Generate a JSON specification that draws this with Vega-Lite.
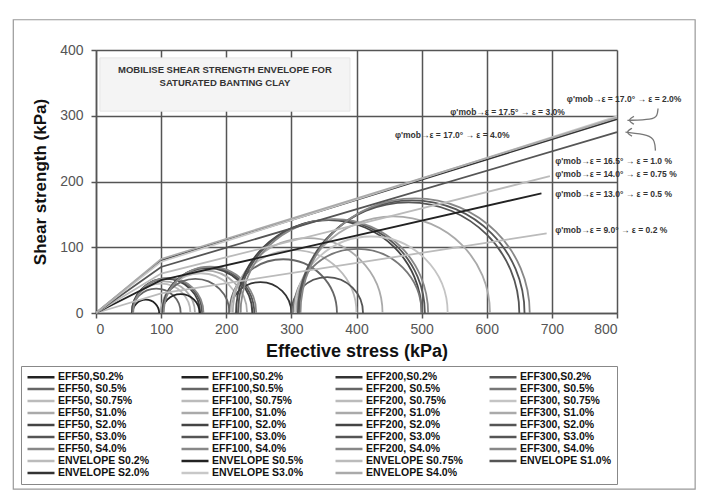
{
  "$schema": "https://vega.github.io/schema/vega-lite/v6.json",
  "width": 521,
  "height": 263,
  "autosize": {"type": "none"},
  "padding": {"left": 96, "top": 50, "right": 84, "bottom": 185},
  "background": "white",
  "config": {"font": "Liberation Sans", "view": {"stroke": null}},
  "datasets": {
    "circles": [
      {"series": "EFF50,S0.2%", "c": 76.5, "r": 20.5},
      {"series": "EFF50, S0.5%", "c": 92.5, "r": 37.5},
      {"series": "EFF50, S0.75%", "c": 100, "r": 45},
      {"series": "EFF50, S1.0%", "c": 103.5, "r": 48.5},
      {"series": "EFF50, S2.0%", "c": 107.5, "r": 52.5},
      {"series": "EFF50, S3.0%", "c": 109.5, "r": 53.5},
      {"series": "EFF50, S4.0%", "c": 111, "r": 54},
      {"series": "EFF100,S0.2%", "c": 130, "r": 29},
      {"series": "EFF100,S0.5%", "c": 152.5, "r": 52.5},
      {"series": "EFF100, S0.75%", "c": 161, "r": 61},
      {"series": "EFF100, S1.0%", "c": 166.5, "r": 65.5},
      {"series": "EFF100, S2.0%", "c": 171, "r": 69},
      {"series": "EFF100, S3.0%", "c": 173, "r": 70},
      {"series": "EFF100, S4.0%", "c": 175, "r": 71},
      {"series": "EFF200,S0.2%", "c": 252.5, "r": 47.5},
      {"series": "EFF200, S0.5%", "c": 287.5, "r": 82.5},
      {"series": "EFF200, S0.75%", "c": 303.5, "r": 96.5},
      {"series": "EFF200, S1.0%", "c": 325, "r": 115},
      {"series": "EFF200, S2.0%", "c": 357.5, "r": 142.5},
      {"series": "EFF200, S3.0%", "c": 361.5, "r": 143.5},
      {"series": "EFF200, S4.0%", "c": 366, "r": 144},
      {"series": "EFF300,S0.2%", "c": 355, "r": 55},
      {"series": "EFF300, S0.5%", "c": 401.5, "r": 98.5},
      {"series": "EFF300, S0.75%", "c": 422.5, "r": 117.5},
      {"series": "EFF300, S1.0%", "c": 456.5, "r": 148.5},
      {"series": "EFF300, S2.0%", "c": 480, "r": 170},
      {"series": "EFF300, S3.0%", "c": 485, "r": 173},
      {"series": "EFF300, S4.0%", "c": 490, "r": 176}
    ],
    "envelopes": [
      {"series": "ENVELOPE S0.2%", "x": 0, "y": 0},
      {"series": "ENVELOPE S0.2%", "x": 100, "y": 30},
      {"series": "ENVELOPE S0.2%", "x": 692, "y": 121},
      {"series": "ENVELOPE S0.5%", "x": 0, "y": 0},
      {"series": "ENVELOPE S0.5%", "x": 100, "y": 50},
      {"series": "ENVELOPE S0.5%", "x": 684, "y": 182},
      {"series": "ENVELOPE S0.75%", "x": 0, "y": 0},
      {"series": "ENVELOPE S0.75%", "x": 100, "y": 60},
      {"series": "ENVELOPE S0.75%", "x": 697, "y": 208},
      {"series": "ENVELOPE S1.0%", "x": 0, "y": 0},
      {"series": "ENVELOPE S1.0%", "x": 100, "y": 70},
      {"series": "ENVELOPE S1.0%", "x": 800, "y": 275},
      {"series": "ENVELOPE S2.0%", "x": 0, "y": 0},
      {"series": "ENVELOPE S2.0%", "x": 100, "y": 80},
      {"series": "ENVELOPE S2.0%", "x": 800, "y": 295},
      {"series": "ENVELOPE S3.0%", "x": 0, "y": 0},
      {"series": "ENVELOPE S3.0%", "x": 100, "y": 78},
      {"series": "ENVELOPE S3.0%", "x": 800, "y": 299},
      {"series": "ENVELOPE S4.0%", "x": 0, "y": 0},
      {"series": "ENVELOPE S4.0%", "x": 100, "y": 82},
      {"series": "ENVELOPE S4.0%", "x": 800, "y": 297}
    ],
    "arrows": [
      {"g": "a1", "i": 0, "x": 863, "y": 311},
      {"g": "a1", "i": 1, "x": 862, "y": 300},
      {"g": "a1", "i": 2, "x": 855, "y": 294},
      {"g": "a1", "i": 3, "x": 816, "y": 293},
      {"g": "h1", "i": 0, "x": 826, "y": 299},
      {"g": "h1", "i": 1, "x": 816, "y": 293},
      {"g": "h1", "i": 2, "x": 826, "y": 287},
      {"g": "a2", "i": 0, "x": 859, "y": 247},
      {"g": "a2", "i": 1, "x": 858, "y": 262},
      {"g": "a2", "i": 2, "x": 850, "y": 271},
      {"g": "a2", "i": 3, "x": 813, "y": 275},
      {"g": "h2", "i": 0, "x": 823, "y": 281},
      {"g": "h2", "i": 1, "x": 813, "y": 275},
      {"g": "h2", "i": 2, "x": 823, "y": 269}
    ],
    "notes": [
      {"x": 723, "y": 326, "label": "φ'mob→ε = 17.0° → ε = 2.0%"},
      {"x": 544, "y": 305, "label": "φ'mob→ε = 17.5° → ε = 3.0%"},
      {"x": 459, "y": 270, "label": "φ'mob→ε = 17.0° → ε = 4.0%"},
      {"x": 705, "y": 231, "label": "φ'mob→ε = 16.5° → ε = 1.0 %"},
      {"x": 705, "y": 211, "label": "φ'mob→ε = 14.0° → ε = 0.75 %"},
      {"x": 705, "y": 181, "label": "φ'mob→ε = 13.0° → ε = 0.5 %"},
      {"x": 705, "y": 126, "label": "φ'mob→ε = 9.0° → ε = 0.2 %"}
    ],
    "heading": [
      {"x": 198, "y": 370, "label": "MOBILISE SHEAR STRENGTH ENVELOPE FOR"},
      {"x": 198, "y": 350, "label": "SATURATED BANTING CLAY"}
    ]
  },
  "layer": [
    {
      "data": {"values": [{}]},
      "mark": {"type": "rect", "fill": null, "stroke": "#999", "strokeWidth": 1.2},
      "encoding": {
        "x": {"datum": -127, "type": "quantitative", "scale": {"domain": [0, 800], "nice": false}},
        "x2": {"datum": 920},
        "y": {"datum": -268, "type": "quantitative", "scale": {"domain": [0, 400], "nice": false}},
        "y2": {"datum": 446}
      }
    },
    {
      "data": {"values": [{}]},
      "mark": {"type": "rect", "fill": "#f4f4f4", "stroke": "#e6e6e6", "strokeWidth": 1},
      "encoding": {
        "x": {"datum": 6, "type": "quantitative", "scale": {"domain": [0, 800], "nice": false}},
        "x2": {"datum": 390},
        "y": {"datum": 307, "type": "quantitative", "scale": {"domain": [0, 400], "nice": false}},
        "y2": {"datum": 388}
      }
    },
    {
      "data": {"name": "heading"},
      "mark": {"type": "text", "font": "Liberation Sans", "fontWeight": "bold", "fontSize": 9.5, "fill": "#333", "align": "center", "baseline": "middle"},
      "encoding": {
        "x": {"field": "x", "type": "quantitative", "scale": {"domain": [0, 800], "nice": false}},
        "y": {"field": "y", "type": "quantitative", "scale": {"domain": [0, 400], "nice": false}},
        "text": {"field": "label"}
      }
    },
    {
      "data": {"name": "circles"},
      "mark": {"type": "point", "shape": "M-1,0A1,1,0,0,1,1,0", "filled": false, "strokeWidth": 1.8, "opacity": 1},
      "encoding": {
        "x": {
          "field": "c", "type": "quantitative",
          "scale": {"domain": [0, 800], "nice": false},
          "axis": {"values": [0, 100, 200, 300, 400, 500, 600, 700, 800], "grid": true, "gridColor": "#555", "gridWidth": 1.5, "domainColor": "#555", "domainWidth": 1.5, "tickColor": "#555", "tickSize": 5, "tickWidth": 1.5, "labelFontSize": 14, "labelColor": "#555", "labelPadding": 4, "title": "Effective stress (kPa)", "titleFontSize": 18, "titleFontWeight": "bold", "titleColor": "#111", "titlePadding": 6}
        },
        "y": {
          "datum": 0, "type": "quantitative",
          "scale": {"domain": [0, 400], "nice": false},
          "axis": {"values": [0, 100, 200, 300, 400], "grid": true, "gridColor": "#555", "gridWidth": 1.5, "domainColor": "#555", "domainWidth": 1.5, "tickColor": "#555", "tickSize": 5, "tickWidth": 1.5, "labelFontSize": 14, "labelColor": "#555", "labelPadding": 8, "title": "Shear strength (kPa)", "titleFontSize": 17, "titleFontWeight": "bold", "titleColor": "#111", "titlePadding": 10}
        },
        "size": {"field": "r", "type": "quantitative", "legend": null, "scale": {"type": "pow", "exponent": 2, "domain": [0, 800], "range": [0, 1085764], "zero": true}},
        "color": {
          "field": "series", "type": "nominal",
          "scale": {
            "domain": ["EFF50,S0.2%", "EFF50, S0.5%", "EFF50, S0.75%", "EFF50, S1.0%", "EFF50, S2.0%", "EFF50, S3.0%", "EFF50, S4.0%", "ENVELOPE S0.2%", "ENVELOPE S2.0%",
                       "EFF100,S0.2%", "EFF100,S0.5%", "EFF100, S0.75%", "EFF100, S1.0%", "EFF100, S2.0%", "EFF100, S3.0%", "EFF100, S4.0%", "ENVELOPE S0.5%", "ENVELOPE S3.0%",
                       "EFF200,S0.2%", "EFF200, S0.5%", "EFF200, S0.75%", "EFF200, S1.0%", "EFF200, S2.0%", "EFF200, S3.0%", "EFF200, S4.0%", "ENVELOPE S0.75%", "ENVELOPE S4.0%",
                       "EFF300,S0.2%", "EFF300, S0.5%", "EFF300, S0.75%", "EFF300, S1.0%", "EFF300, S2.0%", "EFF300, S3.0%", "EFF300, S4.0%", "ENVELOPE S1.0%"],
            "range": ["#222", "#666", "#bbb", "#aaa", "#444", "#555", "#888", "#bbb", "#333",
                      "#222", "#666", "#bbb", "#aaa", "#444", "#555", "#888", "#222", "#c8c8c8",
                      "#333", "#666", "#bbb", "#aaa", "#444", "#555", "#888", "#bbb", "#aaa",
                      "#555", "#777", "#c4c4c4", "#aaa", "#555", "#555", "#888", "#555"]
          },
          "legend": {
            "orient": "none", "legendX": -75, "legendY": 316, "columns": 4, "title": null,
            "symbolType": "M-1,0H5", "symbolSize": 81, "symbolStrokeWidth": 2.5, "symbolLimit": 0,
            "labelFont": "Liberation Sans", "labelFontWeight": "bold", "labelFontSize": 10.5, "labelColor": "#111",
            "labelLimit": 200, "labelOffset": 20, "rowPadding": 0, "columnPadding": 21, "gridAlign": "all",
            "padding": 5, "strokeColor": "#888", "fillColor": "white"
          }
        }
      }
    },
    {
      "data": {"name": "envelopes"},
      "mark": {"type": "line", "strokeWidth": 1.8},
      "encoding": {
        "x": {"field": "x", "type": "quantitative", "scale": {"domain": [0, 800], "nice": false}},
        "y": {"field": "y", "type": "quantitative", "scale": {"domain": [0, 400], "nice": false}},
        "color": {"field": "series", "type": "nominal"}
      }
    },
    {
      "data": {"name": "arrows"},
      "mark": {"type": "line", "color": "#777", "strokeWidth": 1.3, "interpolate": "basis"},
      "encoding": {
        "x": {"field": "x", "type": "quantitative", "scale": {"domain": [0, 800], "nice": false}},
        "y": {"field": "y", "type": "quantitative", "scale": {"domain": [0, 400], "nice": false}},
        "detail": {"field": "g"},
        "order": {"field": "i"}
      }
    },
    {
      "data": {"name": "notes"},
      "mark": {"type": "text", "font": "Liberation Sans", "fontWeight": "bold", "fontSize": 8.5, "fill": "#333", "align": "left", "baseline": "middle"},
      "encoding": {
        "x": {"field": "x", "type": "quantitative", "scale": {"domain": [0, 800], "nice": false}},
        "y": {"field": "y", "type": "quantitative", "scale": {"domain": [0, 400], "nice": false}},
        "text": {"field": "label"}
      }
    }
  ]
}
